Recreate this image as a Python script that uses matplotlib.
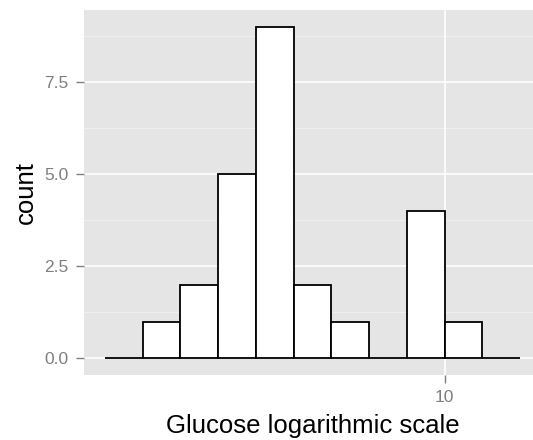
import matplotlib
matplotlib.use("Agg")
import matplotlib.pyplot as plt
import numpy as np

# histogram of glucose on a log10 axis, bins of 0.05 in log10 units
bin_edges_log10 = [0.55, 0.60, 0.65, 0.70, 0.75, 0.80, 0.85, 0.90, 0.95, 1.00, 1.05, 1.10]
counts = [0, 1, 2, 5, 9, 2, 1, 0, 4, 1, 0]
y_ticks = [0.0, 2.5, 5.0, 7.5]
y_minor = [1.25, 3.75, 6.25, 8.75]
x_ticks = [10]

plt.rcParams['font.family'] = ['Liberation Sans', 'DejaVu Sans']

W, H = 533, 440
fig = plt.figure(figsize=(W / 100, H / 100), dpi=100)
# panel runs off the right edge a little
ax = fig.add_axes([84 / W, (H - 375) / H, (541 - 84) / W, (375 - 10) / H])

edges = 10 ** np.array(bin_edges_log10)
left = edges[:-1]
widths = edges[1:] - edges[:-1]

ax.set_facecolor('#E5E5E5')
ax.set_xscale('log')
lo, hi = bin_edges_log10[0], bin_edges_log10[-1]
pad = 0.05 * (hi - lo)
ax.set_xlim(10 ** (lo - pad), 10 ** (hi + pad))
ymax = max(counts)
ax.set_ylim(-0.05 * ymax, ymax * 1.05)

for y in y_minor:
    ax.axhline(y, color='#F2F2F2', lw=0.6, zorder=0)
for y in y_ticks:
    ax.axhline(y, color='white', lw=1.2, zorder=0)
for x in x_ticks:
    ax.axvline(x, color='white', lw=1.2, zorder=0)

ax.bar(left, counts, width=widths, align='edge', color='white',
       edgecolor='black', linewidth=1.3, zorder=2)

ax.set_xticks(x_ticks)
ax.set_xticklabels([str(x) for x in x_ticks])
ax.xaxis.set_minor_locator(matplotlib.ticker.NullLocator())
ax.set_yticks(y_ticks)
ax.set_yticklabels(['%.1f' % y for y in y_ticks])

for s in ax.spines.values():
    s.set_visible(False)
ax.tick_params(axis='both', colors='#7F7F7F', labelcolor='#7F7F7F',
               labelsize=12.5, length=6, width=1, pad=5)

ax.set_xlabel('Glucose logarithmic scale', fontsize=18.5, color='black', labelpad=6)
ax.set_ylabel('count', fontsize=18.5, color='black', labelpad=5)

fig.savefig('out.png', dpi=100, facecolor='white')
